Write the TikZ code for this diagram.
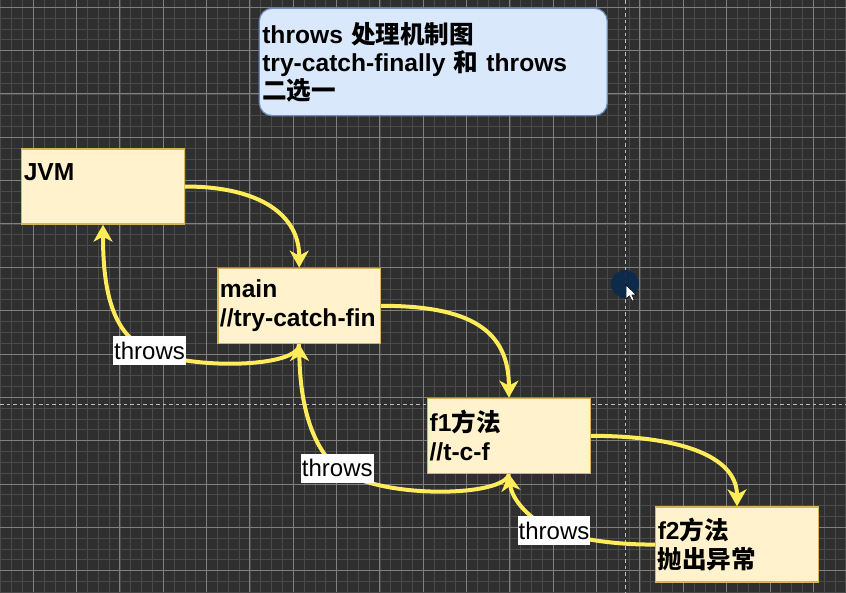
\documentclass[tikz,border=0pt]{standalone}
\usepackage{fontspec}
\setmainfont{Liberation Sans}
\newfontfamily\cjk{Noto Sans CJK SC}
\usetikzlibrary{arrows.meta}
\definecolor{bgc}{HTML}{2F2F2F}
\definecolor{minorc}{HTML}{4A4A4A}
\definecolor{majorc}{HTML}{808080}
\definecolor{pagec}{HTML}{BDBDBD}
\definecolor{boxfill}{HTML}{FFF2CC}
\definecolor{boxline}{HTML}{D6B656}
\definecolor{titlefill}{HTML}{DAE8FC}
\definecolor{titleline}{HTML}{6C8EBF}
\definecolor{edgec}{HTML}{FFEC5A}
\definecolor{cursorc}{HTML}{0B2A4D}
\tikzset{
  minorline/.style={draw=minorc, line width=0.9pt},
  majorline/.style={draw=majorc, line width=1pt},
  pageline/.style={draw=pagec, line width=1.1pt, dash pattern=on 3.5pt off 3pt},
  procbox/.style={draw=boxline, fill=boxfill, line width=1.3pt, rectangle,
    minimum width=162.5pt, minimum height=75pt, inner xsep=2pt, inner ysep=0pt,
    text width=158.5pt, align=left, font=\fontsize{24.6}{29}\selectfont\bfseries},
  titlebox/.style={draw=titleline, fill=titlefill, line width=1.2pt, rectangle,
    rounded corners=13pt, minimum width=348pt, minimum height=107.4pt,
    inner xsep=3pt, inner ysep=0pt, text width=342pt, align=left,
    font=\fontsize{24.6}{28}\selectfont\bfseries},
  flow/.style={draw=edgec, line width=4pt, -{Stealth[length=17pt,width=19pt,inset=5pt]}},
  lbl/.style={fill=white, text=black, inner xsep=1pt, inner ysep=0pt,
    minimum height=29pt, font=\fontsize{24}{28}\selectfont}
}
\begin{document}
\begin{tikzpicture}[x=1pt,y=-1pt]
\useasboundingbox (0,0) rectangle (846,592);
\fill[bgc] (0,0) rectangle (846,592);
% grid
\foreach \i in {0,...,78} { \draw[minorline] ({0.833+10.8333*\i},0) -- ++(0,592); }
\foreach \i in {0,...,55} { \draw[minorline] (0,{-3.5+10.8333*\i}) -- ++(846,0); }
\foreach \i in {0,...,18} { \draw[majorline] ({33.33+43.333*\i},0) -- ++(0,592); }
\foreach \i in {0,...,13} { \draw[majorline] (0,{7.33+43.333*\i}) -- ++(846,0); }
\draw[pageline] (625.3,0) -- (625.3,592);
\draw[pageline] (0,404.3) -- (846,404.3);
% cursor
\fill[cursorc, opacity=0.92] (625,284) circle (14);
\filldraw[fill=white, draw=black, line width=0.5pt] (626,285) -- (626,299) -- (629.5,295.8) -- (632,301) -- (634.2,300) -- (631.8,294.8) -- (636,294.8) -- cycle;
% nodes
\node[titlebox] (title) at (433.3,62) {throws {\cjk 处理机制图}\\try-catch-finally {\cjk 和} throws\\{\cjk 二选一}};
\node[procbox] (jvm) at (103,186.5) {JVM\\\mbox{}};
\node[procbox] (main) at (299.2,305.8) {main\\//try-catch-fin};
\node[procbox] (f1) at (508.9,435.8) {f1{\cjk 方法}\\//t-c-f};
\node[procbox] (f2) at (737,544.5) {f2{\cjk 方法}\\{\cjk 抛出异常}};
\coordinate (c1) at (149.5,350.5);
\coordinate (c2) at (337.3,468.2);
\coordinate (c3) at (554,530.5);
% connectors
\draw[flow] (jvm.east) .. controls (260,186.5) and (299.2,215) .. (main.north);
\draw[flow] (main.east) .. controls (470,305.8) and (508.9,330) .. (f1.north);
\draw[flow] (f1.east) .. controls (690,436) and (737,460) .. (f2.north);
\draw[flow] (f2.west) .. controls (620,545) and (580,540) .. (c3) .. controls (530,520) and (512,500) .. (f1.south);
\draw[flow] (f1.south) .. controls (505,497) and (380,500) .. (c2) .. controls (310,445) and (300,400) .. (main.south);
\draw[flow] (main.south) .. controls (300,368) and (190,370) .. (c1) .. controls (112,335) and (103,290) .. (jvm.south);
% labels
\node[lbl] (t1) at (c1) {throws};
\node[lbl] (t2) at (c2) {throws};
\node[lbl] (t3) at (c3) {throws};
\end{tikzpicture}
\end{document}
